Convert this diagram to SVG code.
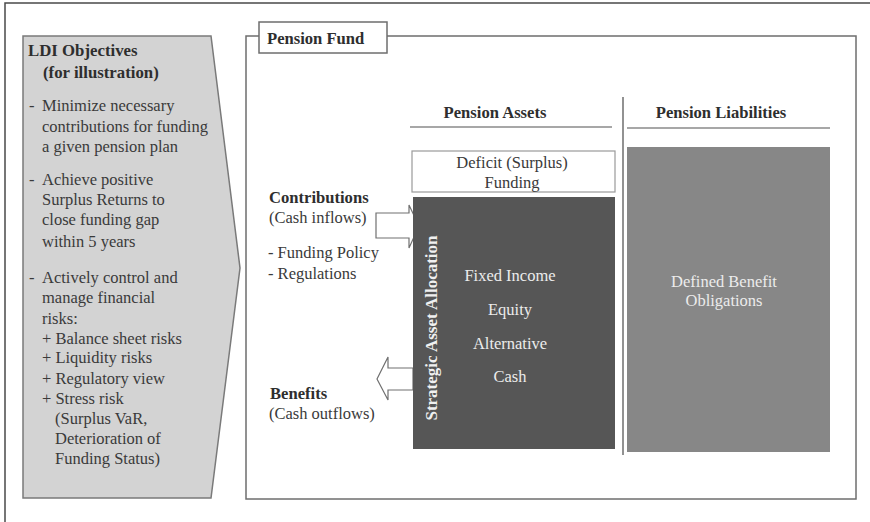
<svg xmlns="http://www.w3.org/2000/svg" width="870" height="522" viewBox="0 0 870 522">
  <style>
    text { font-family: "Liberation Serif", "Times New Roman", serif; fill: #3a3a3a; }
    .b { font-weight: bold; fill: #2e2e2e; font-size: 16.8px; }
    .t { font-size: 16.5px; }
    .hd { font-size: 16.6px; font-weight: bold; fill: #2e2e2e; }
    .lt { fill: #ececec; font-size: 16.5px; }
    .frame { fill: none; stroke: #6e6e6e; stroke-width: 1.5; }
    .rule { stroke: #8a8a8a; stroke-width: 1.5; }
    .flow { fill: #ffffff; stroke: #707070; stroke-width: 1.2; }
  </style>

  <rect width="870" height="522" fill="#ffffff"/>

  <!-- outer page border (top and left edges) -->
  <path d="M5 522 V3 H870" fill="none" stroke="#4a4a4a" stroke-width="1.5"/>

  <!-- LDI objectives pentagon -->
  <g id="ldi-objectives">
    <polygon points="23,36 211,36 240,268 211,498 23,498" fill="#d3d3d3" stroke="#7a7a7a" stroke-width="1.5"/>
    <text x="28" y="56" class="b">LDI Objectives</text>
    <text x="43" y="78" class="b">(for illustration)</text>
    <g class="t">
      <text x="29" y="111">-</text>
      <text x="42" y="111">Minimize necessary</text>
      <text x="42" y="132">contributions for funding</text>
      <text x="42" y="152">a given pension plan</text>
      <text x="29" y="185">-</text>
      <text x="42" y="185">Achieve positive</text>
      <text x="42" y="205">Surplus Returns to</text>
      <text x="42" y="225">close funding gap</text>
      <text x="42" y="247">within 5 years</text>
      <text x="29" y="283">-</text>
      <text x="42" y="283">Actively control and</text>
      <text x="42" y="303">manage financial</text>
      <text x="42" y="324">risks:</text>
      <text x="42" y="344">+ Balance sheet risks</text>
      <text x="42" y="363">+ Liquidity risks</text>
      <text x="42" y="384">+ Regulatory view</text>
      <text x="42" y="404">+ Stress risk</text>
      <text x="55" y="424">(Surplus VaR,</text>
      <text x="55" y="444">Deterioration of</text>
      <text x="55" y="464">Funding Status)</text>
    </g>
  </g>

  <!-- pension fund container -->
  <g id="pension-fund">
    <rect x="246" y="36" width="610" height="463" class="frame"/>
    <rect x="259" y="22" width="128" height="31" fill="#ffffff" stroke="#6e6e6e" stroke-width="1.5"/>
    <text x="267" y="44" class="hd">Pension Fund</text>
  </g>

  <!-- column headers -->
  <g id="headers">
    <text x="495" y="118" class="hd" text-anchor="middle" font-size="17.2">Pension Assets</text>
    <line x1="410" y1="127" x2="612" y2="127" class="rule"/>
    <line x1="623" y1="97" x2="623" y2="455" stroke="#6e6e6e" stroke-width="1.5"/>
    <text x="721" y="118" class="hd" text-anchor="middle">Pension Liabilities</text>
    <line x1="627" y1="128" x2="830" y2="128" class="rule"/>
  </g>

  <!-- cash flow arrows -->
  <g id="connectors">
    <polygon points="376,213 409,213 409,205 419,226 409,248 409,238 376,238" class="flow"/>
    <polygon points="413,368 388,368 388,357 377,379 388,400 388,390 413,390" class="flow"/>
  </g>

  <g id="deficit-funding">
    <rect x="412" y="151" width="203" height="41" fill="#ffffff" stroke="#9a9a9a" stroke-width="1.2"/>
    <text x="512" y="168" class="t" text-anchor="middle">Deficit (Surplus)</text>
    <text x="512" y="188" class="t" text-anchor="middle">Funding</text>
  </g>

  <g id="asset-allocation">
    <rect x="413" y="197" width="202" height="252" fill="#565656"/>
    <text transform="translate(437 328) rotate(-90)" text-anchor="middle" font-size="17" font-weight="bold" style="fill:#f0f0f0">Strategic Asset Allocation</text>
    <text x="510" y="281" class="lt" text-anchor="middle" style="fill:#ececec">Fixed Income</text>
    <text x="510" y="315" class="lt" text-anchor="middle" style="fill:#ececec">Equity</text>
    <text x="510" y="349" class="lt" text-anchor="middle" style="fill:#ececec">Alternative</text>
    <text x="510" y="382" class="lt" text-anchor="middle" style="fill:#ececec">Cash</text>
  </g>

  <g id="contributions">
    <text x="269" y="203" class="hd">Contributions</text>
    <text x="269" y="223" class="t">(Cash inflows)</text>
    <text x="268" y="258" class="t">- Funding Policy</text>
    <text x="268" y="279" class="t">- Regulations</text>
  </g>

  <g id="benefits">
    <text x="270" y="399" class="hd">Benefits</text>
    <text x="269" y="419" class="t">(Cash outflows)</text>
  </g>

  <g id="liabilities">
    <rect x="627" y="147" width="203" height="305" fill="#878787"/>
    <text x="724" y="287" class="lt" text-anchor="middle" style="fill:#ececec">Defined Benefit</text>
    <text x="724" y="306" class="lt" text-anchor="middle" style="fill:#ececec">Obligations</text>
  </g>
</svg>
